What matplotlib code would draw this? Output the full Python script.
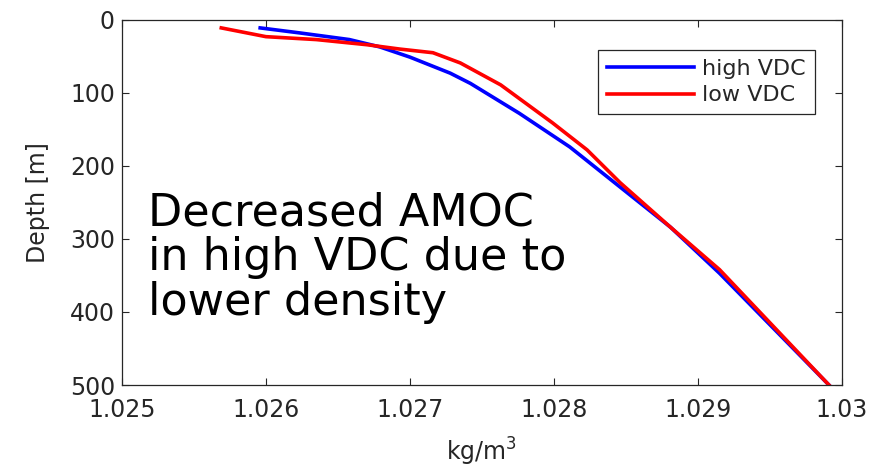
import matplotlib
matplotlib.use('Agg')
import matplotlib.pyplot as plt

# density profiles
high_rho = [1.02596, 1.02624, 1.02658, 1.02679, 1.02700, 1.02728, 1.02742,
            1.02776, 1.02811, 1.02846, 1.02881, 1.02915, 1.02991]
high_depth = [11, 18, 27, 37, 51, 73, 87, 128, 174, 229, 284, 347, 500]

low_rho = [1.02569, 1.02600, 1.02635, 1.02670, 1.02693, 1.02716, 1.02735,
           1.02763, 1.02799, 1.02823, 1.02846, 1.02881, 1.02915, 1.02991]
low_depth = [11, 23, 27, 34, 40, 45, 59, 89, 141, 178, 223, 284, 342, 500]

xticks = [1.025, 1.026, 1.027, 1.028, 1.029, 1.03]
xticklabels = ['1.025', '1.026', '1.027', '1.028', '1.029', '1.03']
yticks = [0, 100, 200, 300, 400, 500]

txt = '#262626'
fig = plt.figure(figsize=(8.9, 4.73), dpi=100)
ax = fig.add_axes([0.137, 0.186, 0.809, 0.772])

ax.plot(high_rho, high_depth, color='#0000ff', lw=2.6, label='high VDC')
ax.plot(low_rho, low_depth, color='#ff0000', lw=2.6, label='low VDC')

ax.set_xlim(1.025, 1.03)
ax.set_ylim(500, 0)
ax.set_xticks(xticks)
ax.set_xticklabels(xticklabels)
ax.set_yticks(yticks)
ax.tick_params(direction='in', top=True, right=True, labelsize=17,
               colors=txt, length=5, width=0.8, pad=5)
ax.tick_params(axis='x', pad=9)
for s in ax.spines.values():
    s.set_color(txt)
    s.set_linewidth(0.9)

ax.set_xlabel('kg/m$^3$', fontsize=17, color=txt, labelpad=10)
ax.set_ylabel('Depth [m]', fontsize=17, color=txt, labelpad=14)

leg = ax.legend(loc='upper right', bbox_to_anchor=(0.9625, 0.918), fontsize=16,
                handlelength=3.9, fancybox=False, framealpha=1, borderaxespad=0,
                labelspacing=0.3, handletextpad=0.4, borderpad=0.4)
leg.get_frame().set_edgecolor(txt)
leg.get_frame().set_linewidth(0.9)
for t in leg.get_texts():
    t.set_color(txt)

ax.text(0.036, 0.53, 'Decreased AMOC\nin high VDC due to\nlower density',
        transform=ax.transAxes, fontsize=32, color='black', va='top', ha='left',
        linespacing=1.05)

fig.savefig('out.png', dpi=100)
